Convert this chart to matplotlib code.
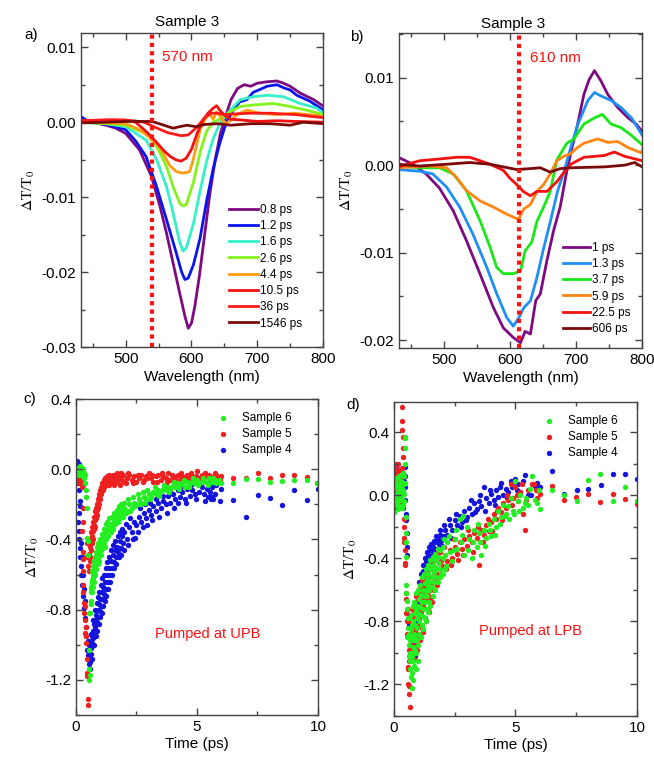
import matplotlib
matplotlib.use("Agg")
import matplotlib.pyplot as plt
from matplotlib.ticker import MultipleLocator, FuncFormatter

plt.rcParams['font.family'] = ['Liberation Sans', 'DejaVu Sans']
plt.rcParams['mathtext.fontset'] = 'stix'

# ---------------- panel a : spectra, Sample 3 ----------------
a_labels = ["0.8 ps", "1.2 ps", "1.6 ps", "2.6 ps", "4.4 ps", "10.5 ps", "36 ps", "1546 ps"]
a_colors = ["#7d0a80", "#0a14f0", "#35f0c8", "#84f21c", "#ff9d12", "#f51010", "#ff1a1a", "#7a0a0a"]

a_wl_08 = [431, 450, 470, 485, 500, 521, 539, 552, 562, 572, 582, 590, 595, 600, 605, 612, 620, 628, 636, 644, 652,
           660, 670, 680, 690, 700, 715, 730, 740, 750, 765, 786, 801]
a_dt_08 = [0.0001, 0.0, -0.0004, -0.0008, -0.0015, -0.0037, -0.0072, -0.0112, -0.0148, -0.0188, -0.0228, -0.0259,
           -0.0275, -0.0268, -0.0246, -0.0205, -0.0150, -0.0095, -0.0050, -0.0015, 0.0008, 0.0030, 0.0045, 0.0050,
           0.0048, 0.0052, 0.0054, 0.0055, 0.0052, 0.0048, 0.0039, 0.0030, 0.0021]
a_wl_12 = [431, 445, 470, 500, 515, 531, 547, 562, 577, 585, 590, 595, 603, 613, 623, 633, 643, 653, 663, 673, 684,
           694, 705, 715, 730, 740, 750, 760, 780, 801]
a_dt_12 = [0.0008, 0.0, -0.0003, -0.0010, -0.0025, -0.0046, -0.0086, -0.0130, -0.0175, -0.0200, -0.0210, -0.0208,
           -0.0190, -0.0155, -0.0105, -0.0062, -0.0028, 0.0000, 0.0015, 0.0027, 0.0030, 0.0040, 0.0044, 0.0048,
           0.0050, 0.0046, 0.0043, 0.0036, 0.0028, 0.0016]
a_wl_16 = [431, 470, 500, 531, 547, 562, 572, 582, 587, 592, 603, 613, 623, 633, 643, 653, 663, 674, 694, 715, 740,
           765, 790, 801]
a_dt_16 = [0.0, -0.0002, -0.0006, -0.0024, -0.0050, -0.0086, -0.0121, -0.0160, -0.0172, -0.0168, -0.0135, -0.0092,
           -0.0052, -0.0022, -0.0002, 0.0010, 0.0020, 0.0030, 0.0034, 0.0036, 0.0034, 0.0025, 0.0019, 0.0012]
a_wl_26 = [431, 470, 500, 531, 547, 562, 572, 582, 587, 592, 603, 613, 623, 633, 643, 659, 674, 694, 724, 750, 775, 801]
a_dt_26 = [0.0, -0.0002, -0.0004, -0.0015, -0.0032, -0.0059, -0.0086, -0.0108, -0.0112, -0.0110, -0.0080, -0.0040,
           -0.0012, 0.0000, 0.0004, 0.0014, 0.0021, 0.0023, 0.0025, 0.0021, 0.0016, 0.0010]
a_wl_44 = [431, 480, 500, 521, 536, 552, 567, 577, 587, 597, 602, 608, 613, 620, 627, 633, 638, 645, 652, 659, 669,
           684, 704, 730, 755, 780, 801]
a_dt_44 = [0.0, -0.0001, -0.0002, -0.0010, -0.0020, -0.0034, -0.0058, -0.0066, -0.0068, -0.0066, -0.0052, -0.0030,
           -0.0010, 0.0003, 0.0012, 0.0004, 0.0014, 0.0006, -0.0002, 0.0002, 0.0010, 0.0016, 0.0012, 0.0010, 0.0012,
           0.0010, 0.0008]
a_wl_105 = [431, 470, 500, 515, 533, 548, 558, 568, 576, 584, 592, 600, 609, 617, 625, 632, 638, 645, 652, 660, 675,
            700, 730, 760, 801]
a_dt_105 = [0.0002, 0.0003, 0.0003, 0.0, -0.0014, -0.0028, -0.0038, -0.0046, -0.0050, -0.0052, -0.0048, -0.0036,
            -0.0014, 0.0002, 0.0012, 0.0018, 0.0022, 0.0014, 0.0008, 0.0004, 0.0003, 0.0001, 0.0002, 0.0001, 0.0]
a_wl_36 = [431, 480, 510, 528, 545, 564, 584, 595, 609, 620, 630, 640, 650, 665, 690, 720, 760, 790, 801]
a_dt_36 = [0.0002, 0.0003, 0.0002, 0.0, -0.0007, -0.0014, -0.0018, -0.0017, -0.0006, 0.0006, 0.0012, 0.0012, 0.0010,
           0.0011, 0.0012, 0.0012, 0.0010, 0.0007, 0.0006]
a_wl_1546 = [431, 470, 500, 540, 558, 572, 582, 593, 607, 620, 640, 660, 690, 720, 750, 770, 801]
a_dt_1546 = [-0.0001, 0.0, 0.0001, 0.0001, -0.0004, -0.0008, -0.0006, -0.0004, -0.0006, -0.0003, -0.0002, -0.0004,
             -0.0002, -0.0002, -0.0004, 0.0, -0.0002]

# ---------------- panel b : spectra, Sample 3 ----------------
b_labels = ["1 ps", "1.3 ps", "3.7 ps", "5.9 ps", "22.5 ps", "606 ps"]
b_colors = ["#7d0a80", "#1e8ff5", "#18e818", "#ff8412", "#f51010", "#7a0a0a"]

b_wl_1 = [431, 453, 473, 493, 514, 534, 555, 575, 590, 605, 616, 623, 631, 639, 646, 656, 666, 676, 686, 694, 702,
          712, 720, 728, 738, 748, 763, 779, 791, 802]
b_dt_1 = [0.0009, 0.0001, -0.0010, -0.0026, -0.0052, -0.0086, -0.0125, -0.0163, -0.0186, -0.0197, -0.0203, -0.0190,
          -0.0193, -0.0155, -0.0147, -0.0109, -0.0075, -0.0048, -0.0007, 0.0020, 0.0045, 0.0081, 0.0098, 0.0108,
          0.0096, 0.0081, 0.0066, 0.0054, 0.0047, 0.0037]
b_wl_13 = [431, 463, 483, 504, 524, 544, 565, 580, 595, 605, 613, 621, 631, 641, 651, 661, 672, 682, 692, 702, 718,
           728, 738, 753, 768, 784, 802]
b_dt_13 = [-0.0005, -0.0007, -0.0010, -0.0025, -0.0048, -0.0079, -0.0117, -0.0147, -0.0174, -0.0184, -0.0175, -0.0163,
           -0.0155, -0.0128, -0.0095, -0.0065, -0.0030, -0.0007, 0.0020, 0.0045, 0.0074, 0.0083, 0.0079, 0.0074,
           0.0066, 0.0054, 0.0032]
b_wl_37 = [431, 463, 493, 514, 534, 555, 570, 580, 590, 605, 616, 623, 633, 641, 651, 661, 671, 686, 697, 712, 728,
           740, 753, 768, 784, 802]
b_dt_37 = [-0.0001, -0.0003, -0.0003, -0.0010, -0.0029, -0.0064, -0.0094, -0.0117, -0.0124, -0.0124, -0.0121, -0.0098,
           -0.0088, -0.0064, -0.0048, -0.0030, 0.0006, 0.0025, 0.0030, 0.0047, 0.0054, 0.0058, 0.0047, 0.0043,
           0.0034, 0.0022]
b_wl_59 = [431, 478, 504, 519, 534, 555, 575, 595, 613, 621, 631, 641, 651, 661, 671, 681, 692, 702, 712, 733, 748,
           763, 779, 799, 802]
b_dt_59 = [-0.0003, -0.0001, -0.0003, -0.0014, -0.0029, -0.0041, -0.0048, -0.0056, -0.0062, -0.0050, -0.0045, -0.0030,
           -0.0022, -0.0010, 0.0005, 0.0010, 0.0013, 0.0020, 0.0025, 0.0030, 0.0026, 0.0027, 0.0020, 0.0014, 0.0020]
b_wl_225 = [431, 463, 493, 519, 539, 555, 570, 590, 600, 610, 620, 631, 641, 656, 671, 679, 692, 712, 743, 758, 774,
            800]
b_dt_225 = [-0.0002, 0.0005, 0.0007, 0.0009, 0.0009, 0.0005, 0.0001, -0.0006, -0.0015, -0.0022, -0.0030, -0.0035,
            -0.0030, -0.0030, -0.0019, -0.0011, 0.0001, 0.0009, 0.0011, 0.0015, 0.0010, 0.0005]
b_wl_606 = [431, 463, 504, 539, 570, 590, 610, 630, 646, 661, 676, 692, 743, 774, 789, 800]
b_dt_606 = [0.0001, -0.0001, 0.0001, 0.0003, 0.0001, -0.0002, -0.0005, -0.0004, -0.0003, -0.0008, -0.0004, -0.0003,
            -0.0002, 0.0000, 0.0003, -0.0002]

# ---------------- panel c : kinetics, pumped at UPB (time ps, dT/T0) ----------------
c_sample6 = [(0.05, 0.0), (0.07, -0.02), (0.09, 0.01), (0.11, -0.03), (0.13, 0.0), (0.15, -0.01), (0.17, 0.02),
             (0.19, -0.02), (0.21, 0.0), (0.23, -0.03), (0.25, 0.01), (0.27, -0.01), (0.29, -0.04), (0.31, 0.0),
             (0.33, -0.02), (0.35, -0.05), (0.37, -0.03), (0.39, -0.08), (0.41, -0.12), (0.43, -0.16),
             (0.45, -0.22), (0.46, -0.39), (0.48, -0.41), (0.5, -0.49), (0.52, -0.82), (0.53, -1.03), (0.54, -1.14),
             (0.55, -1.2), (0.56, -1.17),
             (0.58, -0.82), (0.6, -0.75), (0.62, -0.7), (0.64, -0.67), (0.66, -0.63), (0.68, -0.65), (0.7, -0.6),
             (0.72, -0.62), (0.74, -0.57), (0.76, -0.59), (0.78, -0.54), (0.8, -0.56), (0.83, -0.52), (0.86, -0.49),
             (0.89, -0.51), (0.92, -0.47), (0.95, -0.49), (0.98, -0.45), (1.01, -0.43), (1.04, -0.46), (1.08, -0.41),
             (1.12, -0.39), (1.16, -0.42), (1.2, -0.37), (1.24, -0.35), (1.28, -0.38), (1.32, -0.34), (1.36, -0.32),
             (1.4, -0.35), (1.45, -0.31), (1.5, -0.33), (1.55, -0.29), (1.6, -0.3), (1.65, -0.27), (1.7, -0.29),
             (1.75, -0.26), (1.8, -0.24), (1.85, -0.27), (1.9, -0.23), (1.95, -0.25), (2.0, -0.22), (2.1, -0.24),
             (2.2, -0.2), (2.3, -0.22), (2.4, -0.19), (2.5, -0.2), (2.6, -0.17), (2.7, -0.19), (2.8, -0.16),
             (2.9, -0.17), (3.0, -0.14), (3.1, -0.16), (3.2, -0.13), (3.3, -0.14), (3.4, -0.12), (3.5, -0.13),
             (3.6, -0.11), (3.7, -0.12), (3.8, -0.1), (3.9, -0.11), (4.0, -0.09), (4.1, -0.1), (4.2, -0.08),
             (4.3, -0.09), (4.4, -0.08), (4.5, -0.1), (4.6, -0.07), (4.7, -0.08), (4.8, -0.07), (4.9, -0.08),
             (5.0, -0.06), (5.1, -0.08), (5.2, -0.07), (5.3, -0.06), (5.4, -0.08), (5.5, -0.05), (5.6, -0.07),
             (5.7, -0.06), (5.8, -0.08), (5.9, -0.06), (6.0, -0.08),
             (6.5, -0.076), (7.03, -0.053), (7.53, -0.053), (8.0, -0.07), (8.53, -0.067), (9.02, -0.06),
             (9.53, -0.06), (9.97, -0.076)]
c_sample6_more = [(0.6, -0.68), (0.63, -0.77), (0.65, -0.58), (0.67, -0.7), (0.69, -0.55), (0.71, -0.67),
                  (0.73, -0.52), (0.75, -0.64), (0.77, -0.5), (0.79, -0.6), (0.81, -0.47), (0.84, -0.57),
                  (0.87, -0.44), (0.9, -0.54), (0.93, -0.42), (0.96, -0.52), (0.99, -0.4), (1.02, -0.49),
                  (1.06, -0.37), (1.1, -0.45), (1.14, -0.34), (1.18, -0.44), (1.22, -0.31), (1.26, -0.4),
                  (1.3, -0.3), (1.34, -0.38), (1.38, -0.28), (1.43, -0.36), (1.48, -0.27), (1.53, -0.34),
                  (1.58, -0.25), (1.63, -0.31), (1.68, -0.23), (1.73, -0.3), (1.78, -0.21), (1.83, -0.28),
                  (1.88, -0.2), (1.93, -0.27), (1.98, -0.19), (2.05, -0.25), (2.15, -0.17), (2.25, -0.24),
                  (2.35, -0.16), (2.45, -0.21), (2.55, -0.14), (2.65, -0.2), (2.75, -0.13), (2.85, -0.19),
                  (2.95, -0.12), (3.05, -0.17), (3.25, -0.1), (3.45, -0.15), (3.65, -0.09), (3.85, -0.13),
                  (4.05, -0.07), (4.25, -0.11), (4.45, -0.06), (4.65, -0.1), (4.85, -0.05), (5.05, -0.09),
                  (5.25, -0.05), (5.45, -0.09), (5.65, -0.05), (5.85, -0.07)]
c_sample5 = [(0.05, -0.03), (0.08, -0.06), (0.1, -0.02), (0.12, -0.05), (0.14, -0.08), (0.16, -0.04), (0.18, -0.07),
             (0.2, -0.03), (0.22, -0.06), (0.24, -0.1), (0.26, -0.05), (0.28, -0.09),
             (0.28, -0.22), (0.29, -0.3), (0.28, -0.47), (0.3, -0.51), (0.3, -0.66), (0.31, -0.7), (0.35, -0.82),
             (0.37, -0.86), (0.4, -0.9), (0.41, -0.95), (0.42, -0.99), (0.46, -1.16), (0.47, -1.18), (0.5, -1.31),
             (0.51, -1.34),
             (0.5, -0.55), (0.52, -0.5), (0.54, -0.48), (0.56, -0.52), (0.58, -0.44), (0.6, -0.4), (0.62, -0.42),
             (0.64, -0.36), (0.66, -0.38), (0.68, -0.33), (0.7, -0.35), (0.72, -0.3), (0.74, -0.32), (0.76, -0.27),
             (0.78, -0.29), (0.8, -0.24), (0.82, -0.26), (0.84, -0.22), (0.86, -0.2), (0.88, -0.23), (0.9, -0.17),
             (0.92, -0.19), (0.94, -0.14), (0.96, -0.16), (0.98, -0.12), (1.0, -0.14), (1.03, -0.1), (1.06, -0.12),
             (1.09, -0.08), (1.12, -0.1), (1.15, -0.06), (1.18, -0.08), (1.21, -0.05), (1.24, -0.07), (1.27, -0.04),
             (1.3, -0.06), (1.34, -0.08), (1.38, -0.03), (1.42, -0.06), (1.46, -0.04), (1.5, -0.08), (1.55, -0.05),
             (1.6, -0.03), (1.65, -0.07), (1.7, -0.04), (1.75, -0.06), (1.8, -0.09), (1.85, -0.04), (1.9, -0.06),
             (1.95, -0.03), (2.0, -0.07), (2.1, -0.05), (2.2, -0.03), (2.3, -0.06), (2.4, -0.04), (2.5, -0.07),
             (2.6, -0.05), (2.7, -0.03), (2.8, -0.06), (2.9, -0.04), (3.0, -0.02), (3.1, -0.05), (3.2, -0.07),
             (3.3, -0.04), (3.4, -0.03), (3.5, -0.06), (3.6, -0.04), (3.7, -0.05), (3.8, -0.02), (3.9, -0.06),
             (4.0, -0.04), (4.1, -0.05), (4.2, -0.03), (4.3, -0.06), (4.4, -0.04), (4.5, -0.05), (4.6, -0.03),
             (4.7, -0.05), (4.8, -0.04), (4.9, -0.06), (5.0, -0.01), (5.1, -0.05), (5.2, -0.03), (5.3, -0.05),
             (5.4, -0.04), (5.5, -0.03), (5.6, -0.05), (5.7, -0.04), (5.8, -0.03), (5.9, -0.05), (6.0, -0.04),
             (6.5, -0.047), (7.03, -0.05), (7.53, -0.023), (8.0, -0.047), (8.53, -0.032), (9.02, -0.03),
             (9.53, -0.044), (9.97, -0.076)]
c_sample5_more = [(0.26, -0.35), (0.3, -0.58), (0.33, -0.76), (0.36, -0.78), (0.38, -0.93), (0.44, -1.08),
                  (0.43, -0.5), (0.45, -0.42), (0.55, -0.58), (0.59, -0.5), (0.63, -0.46), (0.67, -0.42),
                  (0.71, -0.4), (0.75, -0.34), (0.79, -0.33), (0.83, -0.28), (0.87, -0.26), (0.91, -0.22),
                  (0.95, -0.2), (0.99, -0.17), (1.04, -0.14), (1.08, -0.12), (1.13, -0.12), (1.17, -0.1),
                  (1.22, -0.09), (1.28, -0.08), (1.33, -0.05), (1.37, -0.09), (1.44, -0.07), (1.52, -0.03),
                  (1.58, -0.09), (1.68, -0.02), (1.78, -0.05), (1.88, -0.02), (2.05, -0.08), (2.15, -0.02),
                  (2.35, -0.08), (2.55, -0.03), (2.75, -0.07), (2.95, -0.05), (3.15, -0.03), (3.35, -0.07),
                  (3.55, -0.02), (3.75, -0.07), (3.95, -0.03), (4.15, -0.07), (4.35, -0.02), (4.55, -0.06),
                  (4.75, -0.02), (4.95, -0.04), (5.15, -0.06), (5.35, -0.02), (5.55, -0.06), (5.75, -0.02),
                  (5.95, -0.06)]
c_sample4 = [(0.05, 0.05), (0.07, -0.02), (0.09, -0.08), (0.11, -0.12), (0.13, -0.05), (0.15, -0.18), (0.17, -0.21),
             (0.12, 0.03),
             (0.12, -0.35), (0.14, -0.4), (0.16, -0.45), (0.18, -0.5), (0.2, -0.55), (0.22, -0.6), (0.26, -0.66),
             (0.3, -0.72), (0.34, -0.79), (0.38, -0.85), (0.4, -0.9), (0.42, -0.95), (0.44, -0.99), (0.46, -1.03),
             (0.48, -1.06), (0.5, -1.08), (0.53, -1.11), (0.56, -1.14), (0.58, -1.1),
             (0.6, -1.05), (0.62, -0.98), (0.64, -1.02), (0.66, -0.95), (0.68, -0.99), (0.7, -0.92), (0.72, -0.96),
             (0.74, -0.88), (0.76, -0.93), (0.78, -0.86), (0.8, -0.9), (0.83, -0.83), (0.86, -0.87), (0.89, -0.8),
             (0.92, -0.84), (0.95, -0.77), (0.98, -0.81), (1.01, -0.74), (1.04, -0.78), (1.07, -0.7), (1.1, -0.74),
             (1.13, -0.67), (1.16, -0.71), (1.2, -0.64), (1.24, -0.68), (1.28, -0.6), (1.32, -0.64), (1.36, -0.56),
             (1.4, -0.6), (1.44, -0.52), (1.48, -0.56), (1.52, -0.49), (1.56, -0.53), (1.6, -0.46), (1.65, -0.5),
             (1.7, -0.44), (1.75, -0.47), (1.8, -0.41), (1.85, -0.45), (1.9, -0.38), (1.95, -0.42), (2.0, -0.36),
             (2.1, -0.4), (2.2, -0.33), (2.3, -0.36), (2.4, -0.3), (2.45, -0.39), (2.5, -0.32), (2.6, -0.27),
             (2.7, -0.3), (2.8, -0.25), (2.9, -0.28), (3.0, -0.23), (3.1, -0.26), (3.2, -0.21), (3.3, -0.24),
             (3.4, -0.19), (3.5, -0.22), (3.6, -0.18), (3.7, -0.2), (3.8, -0.15), (3.9, -0.19), (4.0, -0.14),
             (4.1, -0.17), (4.2, -0.12), (4.3, -0.16), (4.4, -0.13), (4.5, -0.17), (4.6, -0.11), (4.7, -0.15),
             (4.8, -0.12), (4.9, -0.14), (5.0, -0.08), (5.1, -0.13), (5.2, -0.1), (5.3, -0.14), (5.4, -0.11),
             (5.47, -0.16), (5.52, -0.16), (5.53, -0.13), (5.56, -0.17), (5.58, -0.086), (5.63, -0.16),
             (5.64, -0.1), (5.66, -0.17), (5.8, -0.09), (6.0, -0.11),
             (6.5, -0.175), (7.03, -0.27), (7.53, -0.147), (8.0, -0.166), (8.53, -0.204), (9.02, -0.12),
             (9.53, -0.175), (9.99, -0.11)]
c_sample4_more = [(0.1, -0.3), (0.13, -0.25), (0.2, -0.42), (0.24, -0.5), (0.28, -0.6), (0.32, -0.68),
                  (0.36, -0.75), (0.5, -0.98), (0.52, -1.0), (0.55, -1.06), (0.61, -0.94), (0.65, -1.08),
                  (0.69, -0.86), (0.73, -1.0), (0.77, -0.8), (0.81, -0.95), (0.85, -0.76), (0.88, -0.92),
                  (0.91, -0.73), (0.94, -0.88), (0.97, -0.7), (1.0, -0.84), (1.03, -0.66), (1.06, -0.82),
                  (1.09, -0.62), (1.12, -0.78), (1.15, -0.6), (1.18, -0.75), (1.22, -0.56), (1.26, -0.72),
                  (1.3, -0.53), (1.34, -0.68), (1.38, -0.5), (1.42, -0.64), (1.46, -0.46), (1.5, -0.6),
                  (1.54, -0.43), (1.58, -0.56), (1.62, -0.41), (1.67, -0.54), (1.72, -0.38), (1.77, -0.5),
                  (1.82, -0.36), (1.87, -0.49), (1.92, -0.34), (1.97, -0.46), (2.05, -0.31), (2.15, -0.43),
                  (2.25, -0.28), (2.35, -0.4), (2.55, -0.36), (2.65, -0.22), (2.75, -0.33), (2.85, -0.2),
                  (2.95, -0.32), (3.05, -0.19), (3.15, -0.29), (3.3, -0.17), (3.45, -0.27), (3.6, -0.15),
                  (3.75, -0.25), (3.9, -0.13), (4.05, -0.22), (4.2, -0.19), (4.35, -0.1), (4.55, -0.19),
                  (4.75, -0.09), (4.95, -0.17), (5.15, -0.08), (5.35, -0.18), (5.75, -0.14), (5.95, -0.18)]

# ---------------- panel d : kinetics, pumped at LPB ----------------
d_sample6 = [(0.02, -0.11), (0.04, 0.05), (0.06, -0.02), (0.08, 0.1), (0.1, 0.0), (0.12, -0.05), (0.14, 0.07),
             (0.16, 0.02), (0.18, -0.04), (0.2, 0.12), (0.22, 0.03), (0.24, -0.07), (0.26, 0.05), (0.28, 0.0),
             (0.3, 0.09), (0.32, -0.03), (0.34, 0.04), (0.36, -0.06), (0.38, 0.14), (0.4, 0.01), (0.42, 0.07),
             (0.44, 0.37), (0.45, 0.36), (0.46, 0.3), (0.45, 0.2), (0.47, 0.08),
             (0.48, -0.14), (0.49, -0.24), (0.5, -0.3), (0.51, -0.39),
             (0.48, -0.57), (0.5, -0.62), (0.52, -0.67), (0.54, -0.72), (0.56, -0.78), (0.58, -0.84), (0.6, -0.88),
             (0.62, -0.95), (0.64, -1.0), (0.66, -1.05), (0.68, -1.1), (0.7, -1.15), (0.73, -1.22), (0.76, -1.13),
             (0.8, -1.17), (0.82, -1.08),
             (0.7, -0.85), (0.72, -0.9), (0.75, -0.82), (0.78, -0.96), (0.8, -0.8), (0.83, -0.88), (0.85, -0.75),
             (0.88, -0.82), (0.9, -0.72), (0.93, -0.78), (0.96, -0.7), (1.0, -0.75), (1.03, -0.66), (1.06, -0.71),
             (1.1, -0.63), (1.14, -0.68), (1.18, -0.6), (1.22, -0.64), (1.26, -0.56), (1.3, -0.61), (1.34, -0.53),
             (1.38, -0.58), (1.42, -0.5), (1.46, -0.55), (1.5, -0.47), (1.55, -0.52), (1.6, -0.44), (1.65, -0.49),
             (1.7, -0.41), (1.75, -0.46), (1.8, -0.39), (1.85, -0.43), (1.9, -0.35), (1.95, -0.5), (2.0, -0.33),
             (2.1, -0.38), (2.2, -0.3), (2.3, -0.36), (2.4, -0.42), (2.5, -0.28), (2.6, -0.34), (2.7, -0.15),
             (2.8, -0.25), (2.9, -0.38), (3.0, -0.2), (3.1, -0.28), (3.2, -0.4), (3.3, -0.22), (3.4, -0.33),
             (3.5, -0.24), (3.6, -0.38), (3.7, -0.22), (3.8, -0.27), (3.9, -0.18), (4.0, -0.26), (4.1, -0.15),
             (4.2, -0.2), (4.3, -0.1), (4.4, -0.14), (4.5, -0.06), (4.6, -0.12), (4.7, -0.07), (4.8, -0.02),
             (4.9, -0.1), (5.0, 0.09), (5.1, -0.04), (5.2, 0.0), (5.3, -0.08), (5.39, -0.05), (5.5, -0.06),
             (5.7, 0.12), (5.8, -0.03), (5.98, 0.03), (6.0, -0.09),
             (6.49, 0.032), (7.0, 0.0), (7.52, -0.04), (8.0, 0.097), (8.48, 0.137), (9.0, -0.04), (9.51, 0.05),
             (9.99, -0.04)]
d_sample6_more = [(0.05, 0.1), (0.09, -0.06), (0.13, 0.11), (0.17, -0.09), (0.21, 0.06), (0.25, -0.02),
                  (0.29, 0.13), (0.33, -0.08), (0.37, 0.03), (0.41, -0.04), (0.43, 0.12),
                  (0.55, -0.9), (0.6, -1.02), (0.63, -0.78), (0.67, -0.92), (0.7, -0.76), (0.74, -1.0),
                  (0.77, -0.7), (0.8, -0.92), (0.84, -0.68), (0.87, -0.9), (0.9, -0.62), (0.94, -0.84),
                  (0.98, -0.6), (1.02, -0.8), (1.06, -0.57), (1.1, -0.76), (1.14, -0.52), (1.18, -0.72),
                  (1.22, -0.5), (1.26, -0.68), (1.3, -0.47), (1.35, -0.64), (1.4, -0.44), (1.45, -0.6),
                  (1.5, -0.41), (1.55, -0.58), (1.6, -0.39), (1.65, -0.55), (1.7, -0.37), (1.75, -0.52),
                  (1.8, -0.34), (1.9, -0.47), (2.0, -0.4), (2.05, -0.28), (2.15, -0.45), (2.25, -0.26),
                  (2.45, -0.35), (2.55, -0.22), (2.75, -0.3), (2.85, -0.13), (3.05, -0.35), (3.25, -0.3),
                  (3.45, -0.18), (3.55, -0.3), (3.75, -0.32), (3.95, -0.22), (4.15, -0.25), (4.35, -0.18),
                  (4.55, -0.13), (4.75, -0.15), (4.95, -0.12), (5.15, -0.1), (5.45, -0.02), (5.6, 0.04),
                  (5.9, -0.05),
                  (0.75, -1.02), (0.8, -1.05), (0.85, -0.98), (0.9, -1.0), (0.95, -0.92), (1.0, -0.95),
                  (1.05, -0.88), (1.1, -0.9), (1.15, -0.82), (1.2, -0.85), (1.25, -0.77), (1.3, -0.8),
                  (1.35, -0.72), (1.4, -0.74), (1.45, -0.68), (1.5, -0.7), (1.6, -0.64), (1.7, -0.6),
                  (1.8, -0.55), (1.9, -0.52), (2.0, -0.5), (2.1, -0.47), (0.9, -1.1), (1.0, -1.05)]
d_sample5 = [(0.03, 0.18), (0.05, 0.05), (0.07, 0.12), (0.09, -0.02), (0.11, 0.15), (0.13, 0.08), (0.15, 0.02),
             (0.17, 0.2), (0.19, 0.1), (0.21, -0.04), (0.23, 0.06), (0.25, 0.13), (0.27, 0.0), (0.29, 0.09),
             (0.31, 0.17),
             (0.33, 0.56), (0.34, 0.47), (0.35, 0.41), (0.36, 0.37), (0.37, 0.3), (0.38, 0.24), (0.39, 0.12),
             (0.42, -0.2), (0.43, -0.3), (0.44, -0.35), (0.45, -0.43), (0.46, -0.44),
             (0.49, -0.62), (0.51, -0.66), (0.5, -0.75), (0.52, -0.8), (0.53, -0.88), (0.56, -1.1), (0.58, -1.09),
             (0.57, -1.2), (0.6, -1.21), (0.62, -1.26), (0.64, -1.34), (0.62, -1.05), (0.58, -0.72),
             (0.66, -0.95), (0.7, -0.88), (0.72, -0.93), (0.75, -0.8), (0.78, -0.86), (0.8, -0.76), (0.83, -0.82),
             (0.86, -0.72), (0.88, -0.78), (0.9, -0.85), (0.93, -0.7), (0.96, -0.75), (1.0, -0.66), (1.03, -0.72),
             (1.06, -0.62), (1.1, -0.68), (1.14, -0.6), (1.18, -0.65), (1.22, -0.57), (1.26, -0.62), (1.3, -0.54),
             (1.35, -0.58), (1.4, -0.5), (1.45, -0.55), (1.5, -0.47), (1.55, -0.52), (1.6, -0.44), (1.65, -0.49),
             (1.7, -0.41), (1.75, -0.46), (1.8, -0.39), (1.85, -0.43), (1.9, -0.36), (1.95, -0.42), (2.0, -0.45),
             (2.1, -0.38), (2.2, -0.42), (2.3, -0.35), (2.4, -0.4), (2.5, -0.33), (2.6, -0.37), (2.7, -0.3),
             (2.8, -0.34), (2.9, -0.28), (3.0, -0.32), (3.1, -0.26), (3.2, -0.3), (3.3, -0.24), (3.4, -0.27),
             (3.5, -0.44), (3.6, -0.22), (3.7, -0.25), (3.8, -0.19), (3.9, -0.23), (4.0, -0.17), (4.1, -0.12),
             (4.2, -0.15), (4.3, -0.08), (4.4, -0.11), (4.5, -0.05), (4.6, -0.08), (4.7, -0.03), (4.8, 0.07),
             (4.9, -0.02), (5.0, 0.05), (5.1, -0.04), (5.2, 0.02), (5.29, -0.12), (5.39, -0.218), (5.5, 0.03),
             (5.66, 0.068), (5.75, 0.07), (5.9, -0.017), (6.0, 0.01),
             (6.49, 0.057), (7.0, -0.032), (7.48, -0.01), (8.0, 0.01), (8.48, -0.045), (9.0, 0.01), (9.51, -0.022),
             (9.99, -0.054)]
d_sample5_more = [(0.04, 0.1), (0.08, 0.2), (0.12, 0.02), (0.16, -0.05), (0.2, 0.16), (0.24, 0.03),
                  (0.28, -0.03), (0.32, 0.12), (0.4, -0.27), (0.41, -0.15),
                  (0.6, -0.98), (0.64, -0.8), (0.68, -1.0), (0.71, -0.78), (0.74, -0.97), (0.77, -0.73),
                  (0.81, -0.9), (0.85, -0.68), (0.89, -0.88), (0.92, -0.64), (0.97, -0.83), (1.01, -0.62),
                  (1.05, -0.78), (1.09, -0.58), (1.13, -0.74), (1.17, -0.54), (1.21, -0.7), (1.25, -0.52),
                  (1.29, -0.66), (1.33, -0.5), (1.38, -0.63), (1.43, -0.46), (1.48, -0.6), (1.53, -0.43),
                  (1.58, -0.56), (1.63, -0.41), (1.68, -0.53), (1.73, -0.38), (1.78, -0.5), (1.83, -0.35),
                  (1.88, -0.47), (2.05, -0.33), (2.15, -0.47), (2.35, -0.44), (2.45, -0.28), (2.65, -0.41),
                  (2.85, -0.38), (3.05, -0.22), (3.25, -0.36), (3.45, -0.2), (3.65, -0.3), (3.85, -0.15),
                  (4.05, -0.23), (4.25, -0.1), (4.45, -0.16), (4.65, 0.0), (4.85, -0.06), (5.05, 0.0),
                  (5.25, 0.07), (5.45, -0.03), (5.85, 0.03),
                  (0.72, -1.05), (0.78, -1.0), (0.84, -1.04), (0.9, -0.95), (0.96, -0.98), (1.02, -0.9),
                  (1.08, -0.92), (1.14, -0.84), (1.2, -0.87), (1.26, -0.78), (1.32, -0.8), (1.38, -0.72),
                  (1.44, -0.74), (1.5, -0.66), (1.58, -0.68), (1.66, -0.6), (1.76, -0.57), (1.86, -0.52),
                  (1.96, -0.5), (2.06, -0.46)]
d_sample4 = [(0.03, 0.15), (0.06, 0.05), (0.09, 0.18), (0.12, -0.02), (0.15, 0.1), (0.18, 0.03), (0.21, -0.06),
             (0.24, 0.12), (0.27, 0.0), (0.3, 0.07), (0.33, -0.04), (0.36, 0.14), (0.39, 0.02), (0.42, 0.09),
             (0.45, -0.03), (0.47, 0.18),
             (0.48, -0.12), (0.5, -0.16), (0.52, -0.24), (0.54, -0.33), (0.55, -0.38),
             (0.62, -0.82), (0.65, -0.76), (0.68, -0.88), (0.72, -0.84), (0.75, -0.92), (0.78, -0.78), (0.82, -0.86),
             (0.85, -0.72), (0.88, -0.95), (0.92, -0.8), (0.95, -0.68), (0.86, -1.02), (0.9, -0.98), (0.8, -1.0),
             (1.0, -0.65), (1.04, -0.6), (1.08, -0.56), (1.12, -0.62), (1.16, -0.52), (1.2, -0.48), (1.24, -0.54),
             (1.28, -0.45), (1.32, -0.42), (1.36, -0.47), (1.4, -0.38), (1.45, -0.41), (1.5, -0.35), (1.55, -0.38),
             (1.6, -0.33), (1.65, -0.36), (1.7, -0.3), (1.75, -0.34), (1.8, -0.28), (1.85, -0.31), (1.9, -0.25),
             (1.95, -0.29), (2.0, -0.26), (2.1, -0.22), (2.2, -0.25), (2.3, -0.19), (2.4, -0.22), (2.5, -0.16),
             (2.6, -0.19), (2.7, -0.13), (2.8, -0.17), (2.9, -0.1), (3.0, -0.14), (3.1, -0.08), (3.2, -0.12),
             (3.3, -0.05), (3.4, -0.09), (3.5, -0.04), (3.6, -0.07), (3.7, 0.05), (3.8, -0.02), (3.9, -0.05),
             (4.0, 0.01), (4.1, -0.03), (4.2, 0.03), (4.3, -0.01), (4.4, 0.08), (4.5, 0.0), (4.6, 0.04), (4.7, 0.02),
             (4.8, 0.09), (4.9, 0.06), (5.0, 0.1), (5.1, 0.07), (5.2, 0.02), (5.29, 0.09), (5.39, 0.13), (5.5, 0.0),
             (5.62, 0.003), (5.8, 0.06), (5.9, 0.08), (6.0, 0.05),
             (6.5, 0.155), (7.0, 0.005), (7.52, 0.03), (8.0, 0.04), (8.5, 0.063), (9.0, 0.137), (9.51, 0.137),
             (9.99, 0.1)]
d_sample4_more = [(0.05, 0.0), (0.1, 0.1), (0.14, -0.08), (0.2, 0.15), (0.26, -0.05), (0.32, 0.1), (0.38, -0.08),
                  (0.44, 0.05), (0.46, 0.12),
                  (0.6, -0.9), (0.7, -0.95), (0.77, -0.9), (0.83, -0.95), (0.98, -0.74), (1.02, -0.55),
                  (1.06, -0.66), (1.1, -0.5), (1.14, -0.58), (1.18, -0.44), (1.22, -0.58), (1.26, -0.4),
                  (1.3, -0.5), (1.34, -0.36), (1.38, -0.45), (1.43, -0.33), (1.48, -0.44), (1.53, -0.31),
                  (1.58, -0.4), (1.63, -0.29), (1.68, -0.37), (1.73, -0.26), (1.78, -0.34), (1.88, -0.22),
                  (1.98, -0.32), (2.05, -0.19), (2.25, -0.15), (2.35, -0.27), (2.55, -0.12), (2.75, -0.2),
                  (2.95, -0.16), (3.15, -0.03), (3.35, -0.11), (3.55, 0.0), (3.75, -0.1), (3.95, 0.03),
                  (4.15, -0.06), (4.35, 0.05), (4.65, -0.02), (4.85, 0.05), (5.05, 0.03),
                  (0.95, -0.88), (1.0, -0.8), (1.05, -0.75), (1.1, -0.7), (1.15, -0.66), (1.2, -0.62),
                  (1.25, -0.6), (1.3, -0.56), (1.4, -0.52), (1.5, -0.46)]

sample_labels = ["Sample 6", "Sample 5", "Sample 4"]
sample_colors = ["#22ee22", "#ee2020", "#1414dd"]

FS = 11
YLAB = r"$\Delta$T/T$_0$"


def style_axes(ax):
    for s in ax.spines.values():
        s.set_color("#444444")
        s.set_linewidth(1.0)
    ax.tick_params(which="both", direction="in", top=True, right=True, colors="#444444",
                   labelcolor="black", labelsize=FS)
    ax.tick_params(which="major", length=5, width=1)
    ax.tick_params(which="minor", length=3, width=1)


def fmt(decimals):
    def f(v, pos):
        if abs(v) < 1e-12:
            v = 0.0
        return f"{v:.{decimals}f}"
    return FuncFormatter(f)


fig = plt.figure(figsize=(6.54, 7.61), dpi=100)
ax_a = fig.add_axes([0.1239, 0.5440, 0.3700, 0.4126])
ax_b = fig.add_axes([0.6101, 0.5427, 0.3716, 0.4139])
ax_c = fig.add_axes([0.1162, 0.0604, 0.3700, 0.4152])
ax_d = fig.add_axes([0.6024, 0.0591, 0.3716, 0.4126])

# panel a
a_series = [(a_wl_08, a_dt_08), (a_wl_12, a_dt_12), (a_wl_16, a_dt_16), (a_wl_26, a_dt_26),
            (a_wl_44, a_dt_44), (a_wl_105, a_dt_105), (a_wl_36, a_dt_36), (a_wl_1546, a_dt_1546)]
for (wl, dt), lab, col in zip(a_series, a_labels, a_colors):
    ax_a.plot(wl, dt, color=col, lw=2.0, label=lab)
ax_a.axvline(540, color="#ff1010", lw=3, linestyle=(0, (1, 1)))
ax_a.set_xlim(432, 800)
ax_a.set_ylim(-0.03, 0.0119)
ax_a.xaxis.set_major_locator(MultipleLocator(100))
ax_a.xaxis.set_minor_locator(MultipleLocator(50))
ax_a.yaxis.set_major_locator(MultipleLocator(0.01))
ax_a.yaxis.set_minor_locator(MultipleLocator(0.005))
ax_a.yaxis.set_major_formatter(fmt(2))
ax_a.text(0.335, 0.925, "570 nm", transform=ax_a.transAxes, color="#ff1010", fontsize=FS, va="center")
ax_a.legend(loc="upper left", bbox_to_anchor=(0.592, 0.471), frameon=False, fontsize=8.5,
            handlelength=2.45, handletextpad=0.15, labelspacing=0.36, borderaxespad=0)

# panel b
b_series = [(b_wl_1, b_dt_1), (b_wl_13, b_dt_13), (b_wl_37, b_dt_37), (b_wl_59, b_dt_59),
            (b_wl_225, b_dt_225), (b_wl_606, b_dt_606)]
for (wl, dt), lab, col in zip(b_series, b_labels, b_colors):
    ax_b.plot(wl, dt, color=col, lw=2.0, label=lab)
ax_b.axvline(614, color="#ff1010", lw=3, linestyle=(0, (1, 1)))
ax_b.set_xlim(432, 800)
ax_b.set_ylim(-0.0209, 0.0151)
ax_b.xaxis.set_major_locator(MultipleLocator(100))
ax_b.xaxis.set_minor_locator(MultipleLocator(50))
ax_b.yaxis.set_major_locator(MultipleLocator(0.01))
ax_b.yaxis.set_minor_locator(MultipleLocator(0.005))
ax_b.yaxis.set_major_formatter(fmt(2))
ax_b.text(0.54, 0.92, "610 nm", transform=ax_b.transAxes, color="#ff1010", fontsize=FS, va="center")
ax_b.legend(loc="upper left", bbox_to_anchor=(0.656, 0.352), frameon=False, fontsize=8.5,
            handlelength=2.3, handletextpad=0.15, labelspacing=0.36, borderaxespad=0)

# panels c, d  (drawn Sample 4, 5, 6 so green sits on top; legend listed 6, 5, 4)
panel_data = ((ax_c, (c_sample6 + c_sample6_more, c_sample5 + c_sample5_more, c_sample4 + c_sample4_more), 0.54),
              (ax_d, (d_sample6 + d_sample6_more, d_sample5 + d_sample5_more, d_sample4 + d_sample4_more), 0.57))
for ax, data, lx in panel_data:
    handles = []
    for pts, lab, col in reversed(list(zip(data, sample_labels, sample_colors))):
        h = ax.scatter([p[0] for p in pts], [p[1] for p in pts], s=15, color=col, linewidths=0, label=lab)
        handles.append(h)
    handles = handles[::-1]
    ax.set_xlim(0, 10)
    ax.xaxis.set_major_locator(MultipleLocator(5))
    ax.xaxis.set_minor_locator(MultipleLocator(2.5))
    ax.yaxis.set_major_locator(MultipleLocator(0.4))
    ax.yaxis.set_minor_locator(MultipleLocator(0.2))
    ax.yaxis.set_major_formatter(fmt(1))
    ax.set_xlabel("Time (ps)", fontsize=FS, labelpad=2)
    ax.legend(handles=handles, loc="upper left", bbox_to_anchor=(lx, 0.975), frameon=False, fontsize=8.5,
              handletextpad=0.6, labelspacing=0.36, borderaxespad=0, scatterpoints=1)
ax_c.set_ylim(-1.4, 0.4)
ax_d.set_ylim(-1.4, 0.59)
ax_c.text(0.325, 0.255, "Pumped at UPB", transform=ax_c.transAxes, color="#ff1010", fontsize=FS - 0.5,
          va="center")
ax_d.text(0.35, 0.27, "Pumped at LPB", transform=ax_d.transAxes, color="#ff1010", fontsize=FS - 0.5,
          va="center")

for ax in (ax_a, ax_b, ax_c, ax_d):
    style_axes(ax)
    ax.set_ylabel(YLAB, fontsize=FS, family="Liberation Serif", labelpad=3)
for ax in (ax_a, ax_b):
    ax.set_xlabel("Wavelength (nm)", fontsize=FS, labelpad=3)

ax_a.text(0.438, 1.035, "Sample 3", transform=ax_a.transAxes, fontsize=FS, ha="center", va="center")
ax_b.text(0.468, 1.028, "Sample 3", transform=ax_b.transAxes, fontsize=FS, ha="center", va="center")

W, H = 654, 761
for lab, x, y in (("a)", 31, 35), ("b)", 357, 37), ("c)", 30, 399), ("d)", 353, 405)):
    fig.text(x / W, 1 - y / H, lab, fontsize=FS, ha="center", va="center")

fig.savefig("out.png", dpi=100)
